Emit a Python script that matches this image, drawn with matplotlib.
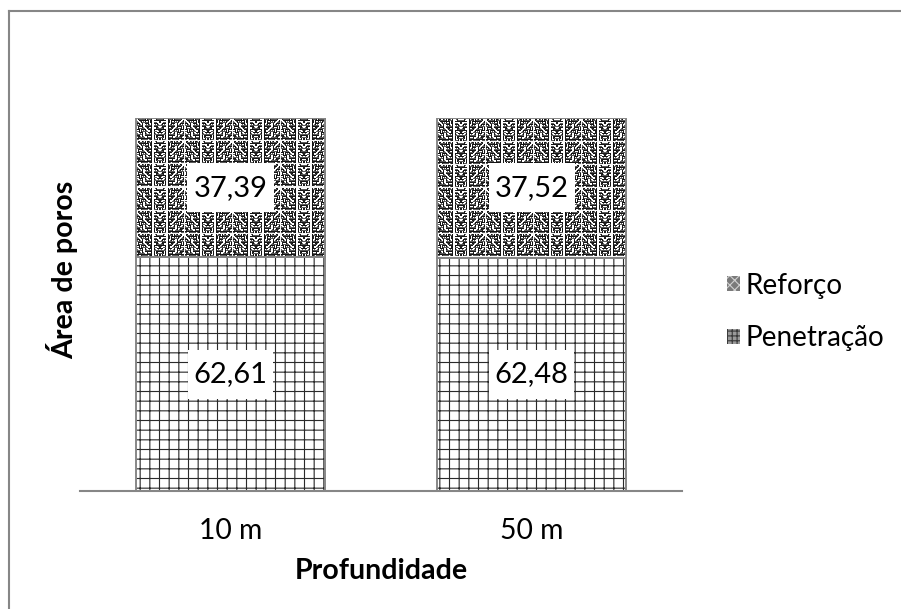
import numpy as np
import matplotlib
matplotlib.use("Agg")
import matplotlib.pyplot as plt
from matplotlib.patches import Patch, Rectangle
from matplotlib.lines import Line2D

# ---- data ----
categories = ["10 m", "50 m"]
penetracao = [62.61, 62.48]
reforco = [37.39, 37.52]
series_names = ["Reforço", "Penetração"]
x_title = "Profundidade"
y_title = "Área de poros"

DPI = 116
W_PX, H_PX = 901, 609
plt.rcParams["font.family"] = ["Lato", "DejaVu Sans"]
plt.rcParams["hatch.linewidth"] = 0.7

fig = plt.figure(figsize=(W_PX / DPI, H_PX / DPI), dpi=DPI)
fig.patch.set_facecolor("white")

# plot area in pixel terms
left, right, top, base = 80, 682, 118, 491
ax = fig.add_axes([left / W_PX, 1 - base / H_PX, (right - left) / W_PX, (base - top) / H_PX])
ax.set_xlim(-0.5, len(categories) - 0.5)
ax.set_ylim(0, 100)

x = np.arange(len(categories))
bw = 0.63
gray = "#868686"

# lower segment: square grid
ax.bar(x, penetracao, bw, color="white", edgecolor="#2a2a2a", hatch="++", linewidth=0, zorder=2)
ax.bar(x, penetracao, bw, fill=False, edgecolor=gray, linewidth=1.2, zorder=3)


def maze_tile(h=23, w=48, cell=3):
    """One block of the maze texture built from short orthogonal strokes."""
    t = np.ones((h, w))
    half = w // 2
    for ci in range(0, h, cell):
        for cj in range(0, half, cell):
            a, b = ci // cell, cj // cell
            k = (a * 131 + b * 71 + a * b * 17) % 9
            if k < 4 or k == 8:
                t[ci, cj:cj + cell] = 0.08
            if k >= 4:
                t[ci:ci + cell, cj] = 0.08
            if k % 3 == 0:
                t[ci:ci + cell, min(cj + cell - 1, half - 1)] = 0.12
            if k % 2 == 1:
                t[min(ci + 1, h - 1), min(cj + 1, w - 1)] = 0.4
            if k in (1, 2, 5, 7, 8):
                t[min(ci + 2, h - 1), cj:cj + cell] = 0.35
    # mirror the left half to form a symmetric block
    t[:, half:] = t[:, :w - half][:, ::-1]
    t[:, 0] = 0.97
    t[0, :] = 0.97
    return t


tile = maze_tile()
px_per_x = (right - left) / (ax.get_xlim()[1] - ax.get_xlim()[0])
px_per_y = (base - top) / 100.0

# upper segment: maze texture
for xi, b, h in zip(x, penetracao, reforco):
    wpx = int(round(bw * px_per_x))
    hpx = int(round(h * px_per_y))
    ny = hpx // tile.shape[0] + 1
    nx = wpx // tile.shape[1] + 1
    tex = np.tile(tile, (ny, nx))[:hpx, :wpx]
    ax.imshow(tex, cmap="gray", vmin=0, vmax=1, interpolation="nearest", aspect="auto",
              extent=(xi - bw / 2, xi + bw / 2, b, b + h), origin="upper", zorder=2)
ax.bar(x, reforco, bw, bottom=penetracao, fill=False, edgecolor=gray, linewidth=1.2, zorder=3)
ax.set_xlim(-0.5, len(categories) - 0.5)
ax.set_ylim(0, 100)


# value labels on white boxes
def fmt(v):
    return f"{v:.2f}".replace(".", ",")


labels = []
for xi, b, h in zip(x, penetracao, reforco):
    for y0, v in [(0, b), (b, h)]:
        labels.append(ax.text(xi, y0 + v / 2, fmt(v), ha="center", va="center", fontsize=18,
                              color="black", zorder=5))

renderer = fig.canvas.get_renderer()
inv = ax.transData.inverted()
for t in labels:
    ext = t.get_window_extent(renderer)
    cx, cy = (ext.x0 + ext.x1) / 2, (ext.y0 + ext.y1) / 2
    half_w, half_h = ext.width / 2 + 6, 24.5
    (x0, y0), (x1, y1) = inv.transform([(cx - half_w, cy - half_h), (cx + half_w, cy + half_h)])
    ax.add_patch(Rectangle((x0, y0), x1 - x0, y1 - y0, facecolor="white", edgecolor="none", zorder=4))

# axes styling
for s in ["left", "right", "top"]:
    ax.spines[s].set_visible(False)
ax.spines["bottom"].set_color(gray)
ax.spines["bottom"].set_linewidth(1.3)
ax.set_yticks([])
ax.set_xticks(x)
ax.set_xticklabels(categories, fontsize=17.5)
ax.tick_params(axis="x", length=0, pad=17)
ax.set_facecolor("none")

# axis titles
fig.text((left + right) / 2 / W_PX, 1 - 571 / H_PX, x_title, ha="center", va="center",
         fontsize=17.8, fontweight="bold")
fig.text(62 / W_PX, 1 - 270 / H_PX, y_title, ha="center", va="center", rotation=90,
         fontsize=17.8, fontweight="bold")

# legend
handles = [
    Patch(facecolor="#7a7a7a", edgecolor="#d0d0d0", hatch="xxxx", linewidth=0),
    Patch(facecolor="#9a9a9a", edgecolor="#3a3a3a", hatch="++++", linewidth=0),
]
fig.legend(handles, series_names, loc="center left", bbox_to_anchor=(727 / W_PX, 1 - 312 / H_PX),
           frameon=False, fontsize=17.3, handlelength=0.45, handleheight=0.45, handletextpad=0.2,
           labelspacing=0.95, borderaxespad=0, borderpad=0)

# chart frame (left and top edges)
fig.add_artist(Line2D([8.5 / W_PX, 8.5 / W_PX], [0, 1 - 11 / H_PX], transform=fig.transFigure,
                      color=gray, linewidth=1.3))
fig.add_artist(Line2D([8.5 / W_PX, 1], [1 - 11 / H_PX, 1 - 11 / H_PX], transform=fig.transFigure,
                      color=gray, linewidth=1.3))

fig.savefig("out.png", dpi=DPI)
